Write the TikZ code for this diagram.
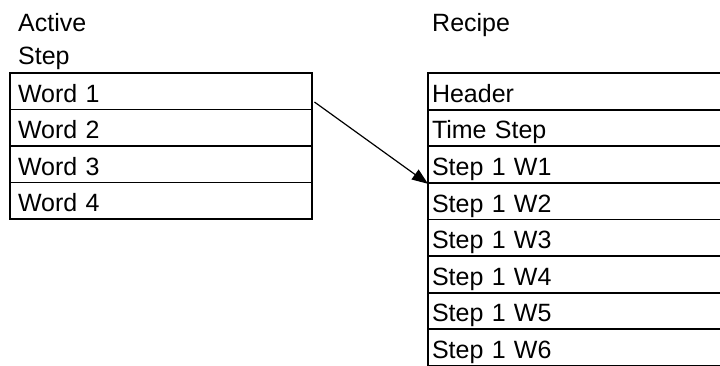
\documentclass[tikz,border=0pt]{standalone}
\usepackage{fontspec}
\setmainfont{Liberation Sans}
\usepackage{tikz}
\usetikzlibrary{arrows.meta, positioning}

\begin{document}
\begin{tikzpicture}[
  x=1pt, y=-1pt,
  node distance=0pt,
  font=\fontsize{25}{30}\selectfont,
  lbl/.style={anchor=base west, inner sep=0pt},
  word/.style={draw, line width=1.8pt, outer sep=0pt, align=left,
    text width=286pt, inner xsep=8pt, inner ysep=0pt,
    minimum height=36.5pt, text height=22pt, text depth=0pt},
  slot/.style={word, text width=312pt, inner xsep=4pt, minimum height=36.6pt},
  >={Triangle[length=16pt, width=12pt]}
]
\fill[white] (0,0) rectangle (720,365);
\path[use as bounding box] (0,0) rectangle (720,365);
\clip (0,0) rectangle (720,365);

% active step
\node[lbl] (act) at (18,31) {Active};
\node[lbl] (stp) at (18,64.5) {Step};
\node[word, anchor=north west] (w1) at (10,73) {Word 1};
\node[word, below=of w1] (w2) {Word 2};
\node[word, below=of w2] (w3) {Word 3};
\node[word, below=of w3] (w4) {Word 4};

% recipe
\node[lbl] (rcp) at (432,31) {Recipe};
\node[slot, anchor=north west] (hdr) at (428,73) {Header};
\node[slot, below=of hdr] (tstep) {Time Step};
\node[slot, below=of tstep] (s1) {Step 1 W1};
\node[slot, below=of s1] (s2) {Step 1 W2};
\node[slot, below=of s2] (s3) {Step 1 W3};
\node[slot, below=of s3] (s4) {Step 1 W4};
\node[slot, below=of s4] (s5) {Step 1 W5};
\node[slot, below=of s5] (s6) {Step 1 W6};

\draw[->, line width=1.2pt, shorten <=3pt] ([yshift=-9pt]w1.east) -- ([yshift=-1pt]s1.south west);
\end{tikzpicture}
\end{document}
